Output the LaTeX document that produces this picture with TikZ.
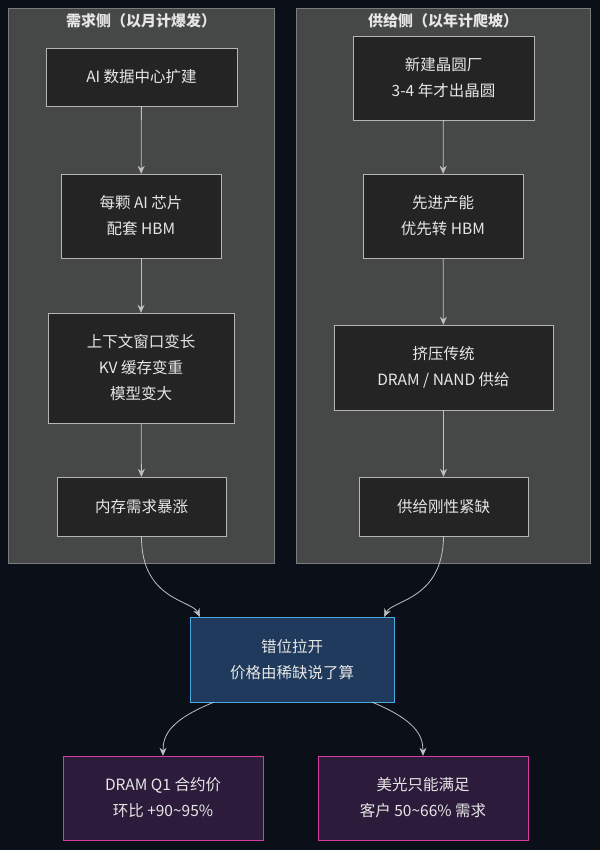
\documentclass[tikz,border=0pt]{standalone}
\usepackage{fontspec}
\setmainfont{Noto Sans CJK SC}
\usetikzlibrary{positioning,arrows.meta}
\definecolor{bgdark}{HTML}{0B0F17}
\definecolor{clusterfill}{HTML}{464847}
\definecolor{clusterline}{HTML}{7A7C7B}
\definecolor{boxfill}{HTML}{232423}
\definecolor{boxline}{HTML}{B5B5B5}
\definecolor{midfill}{HTML}{1F3A5C}
\definecolor{midline}{HTML}{4BA8E0}
\definecolor{endfill}{HTML}{2C1B3B}
\definecolor{endline}{HTML}{D43C9E}
\definecolor{txt}{HTML}{E6E6E6}
\tikzset{
  card/.style={draw=boxline, fill=boxfill, text=txt, align=center, inner sep=0pt, font=\fontsize{15.5}{26}\selectfont},
  mid/.style={card, draw=midline, fill=midfill},
  result/.style={card, draw=endline, fill=endfill},
  flow/.style={draw=boxline!85, line width=.8pt, -{Stealth[length=8pt,width=7pt]}},
}
\begin{document}
\begin{tikzpicture}[x=1pt, y=-1pt]
	\fill[bgdark] (0,0) rectangle (600,850);
	\useasboundingbox (0,0) rectangle (600,850);
	% clusters
	\draw[clusterline, fill=clusterfill] (8,8) rectangle (274,563);
	\draw[clusterline, fill=clusterfill] (296,8) rectangle (590,563);
	\node[text=txt, font=\fontsize{15}{16}\selectfont\bfseries] (dtitle) at (141,21) {需求侧（以月计爆发）};
	\node[text=txt, font=\fontsize{15}{16}\selectfont\bfseries] (stitle) at (443,21) {供给侧（以年计爬坡）};
	% demand side
	\node[card, minimum width=191, minimum height=58] (dc) at (141.5,77) {AI 数据中心扩建};
	\node[card, minimum width=160, minimum height=84] (hbm) at (141,216) {每颗 AI 芯片\\配套 HBM};
	\node[card, minimum width=186, minimum height=110] (kv) at (141,368) {上下文窗口变长\\KV 缓存变重\\模型变大};
	\node[card, minimum width=169, minimum height=59] (surge) at (141.5,506.5) {内存需求暴涨};
	% supply side
	\node[card, minimum width=181, minimum height=84] (fab) at (443.5,78) {新建晶圆厂\\3-4 年才出晶圆};
	\node[card, minimum width=160, minimum height=84] (adv) at (443,216) {先进产能\\优先转 HBM};
	\node[card, minimum width=219, minimum height=85] (squeeze) at (443.5,367.5) {挤压传统\\DRAM / NAND 供给};
	\node[card, minimum width=169, minimum height=59] (short) at (443.5,506.5) {供给刚性紧缺};
	% outcome
	\node[mid, minimum width=204, minimum height=85] (gap) at (292,659.5) {错位拉开\\价格由稀缺说了算};
	\node[result, minimum width=200, minimum height=84] (price) at (163,798) {DRAM Q1 合约价\\环比 +90\textasciitilde95\%};
	\node[result, minimum width=210, minimum height=84] (micron) at (423,798) {美光只能满足\\客户 50\textasciitilde66\% 需求};
	% connectors
	\draw[flow] (dc) -- (hbm);
	\draw[flow] (hbm) -- (kv);
	\draw[flow] (kv) -- (surge);
	\draw[flow] (fab) -- (adv);
	\draw[flow] (adv) -- (squeeze);
	\draw[flow] (squeeze) -- (short);
	\draw[flow] (surge.south) .. controls (141,600) and (192,600) .. ([xshift=10pt]gap.north west);
	\draw[flow] (short.south) .. controls (443,600) and (392,600) .. ([xshift=-10pt]gap.north east);
	\draw[flow] ([xshift=24pt]gap.south west) .. controls (170,720) and (163,735) .. (price.north);
	\draw[flow] ([xshift=-22pt]gap.south east) .. controls (415,720) and (423,735) .. (micron.north);
\end{tikzpicture}
\end{document}
